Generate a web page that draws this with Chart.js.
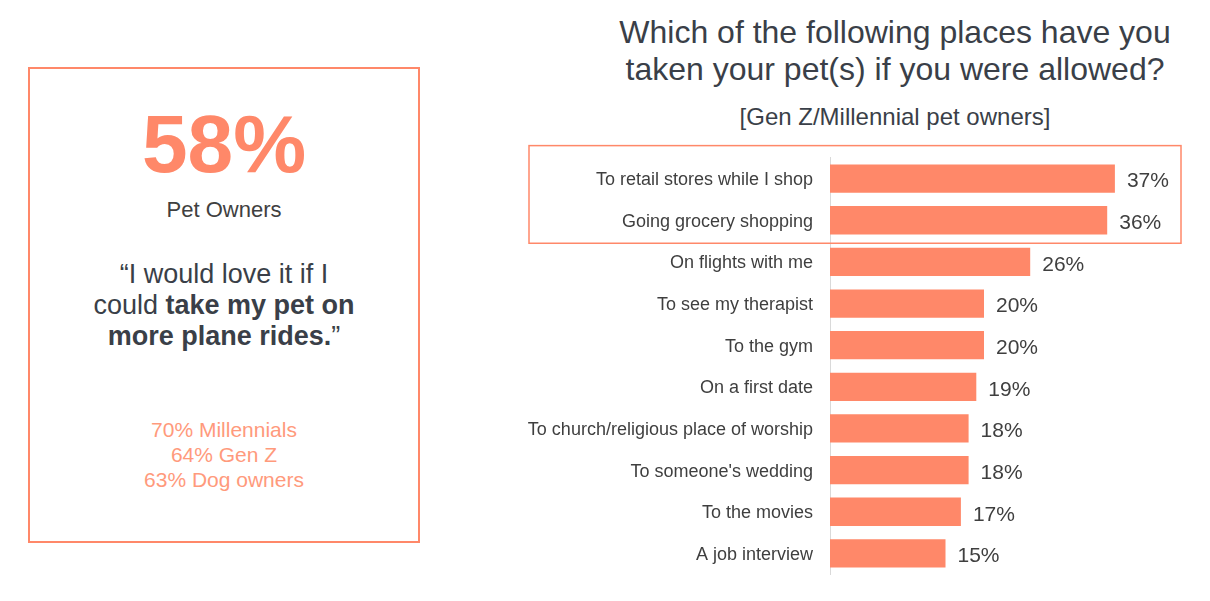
<!DOCTYPE html>
<html>
<head>
<meta charset="utf-8">
<script src="https://cdn.jsdelivr.net/npm/chart.js@4"></script>
<style>
  body { margin: 0; background: #fff; font-family: "Liberation Sans", Arial, sans-serif; color: #404040; }
  .page { position: relative; width: 1210px; height: 601px; overflow: hidden; }
  .card { position: absolute; left: 28px; top: 67px; width: 388px; height: 472px; border: 2px solid #FF8869; text-align: center; }
  .big { position: absolute; left: 0; right: 0; top: 34px; font-size: 82px; font-weight: bold; color: #FF8869; line-height: 1; }
  .owners { position: absolute; left: 0; right: 0; top: 128px; font-size: 22px; }
  .quote { position: absolute; left: 0; right: 0; top: 190px; font-size: 27px; line-height: 31px; color: #3a3f48; }
  .quote b { font-weight: 600; }
  .stats { position: absolute; left: 0; right: 0; top: 348px; font-size: 21px; line-height: 25px; color: #FF9A7C; }
  .title { position: absolute; left: 560px; width: 670px; top: 14px; text-align: center; font-size: 32px; line-height: 37px; color: #3a3f48; }
  .sub { position: absolute; left: 560px; width: 670px; top: 103px; text-align: center; font-size: 24px; color: #3a3f48; }
  .wrap { position: absolute; left: 520px; top: 130px; width: 690px; height: 472px; }
</style>
</head>
<body>
<div class="page">
  <div class="card">
    <div class="big">58%</div>
    <div class="owners">Pet Owners</div>
    <div class="quote">“I would love it if I<br>could <b>take my pet on<br>more plane rides.</b>”</div>
    <div class="stats">70% Millennials<br>64% Gen Z<br>63% Dog owners</div>
  </div>
  <div class="title">Which of the following places have you<br>taken your pet(s) if you were allowed?</div>
  <div class="sub">[Gen Z/Millennial pet owners]</div>
  <div class="wrap"><canvas id="places"></canvas></div>
</div>
<script>
const PLACES = [
  'To retail stores while I shop',
  'Going grocery shopping',
  'On flights with me',
  'To see my therapist',
  'To the gym',
  'On a first date',
  'To church/religious place of worship',
  "To someone's wedding",
  'To the movies',
  'A job interview'
];
const SHARE = [37, 36, 26, 20, 20, 19, 18, 18, 17, 15];
const HIGHLIGHTED = [0, 1];

const CORAL = '#FF8869';
const TEXT = '#3f3f3f';

// value labels at the end of each bar + box round the top two rows
const extras = {
  id: 'extras',
  afterDatasetsDraw(chart) {
    const ctx = chart.ctx;
    const meta = chart.getDatasetMeta(0);
    ctx.save();
    ctx.font = '21px "Liberation Sans", Arial, sans-serif';
    ctx.fillStyle = TEXT;
    ctx.textBaseline = 'middle';
    ctx.textAlign = 'left';
    meta.data.forEach((bar, i) => {
      ctx.fillText(SHARE[i] + '%', bar.x + 12, bar.y + 3);
    });
    const y = chart.scales.y;
    const top = y.getPixelForValue(HIGHLIGHTED[0]) - 33;
    const bottom = y.getPixelForValue(HIGHLIGHTED[HIGHLIGHTED.length - 1]) + 23;
    ctx.strokeStyle = CORAL;
    ctx.lineWidth = 1.5;
    ctx.strokeRect(9, top, 652, bottom - top);
    ctx.restore();
  }
};

new Chart(document.getElementById('places'), {
  type: 'bar',
  data: {
    labels: PLACES,
    datasets: [{
      data: SHARE,
      backgroundColor: CORAL,
      borderWidth: 0,
      categoryPercentage: 1,
      barPercentage: 0.68
    }]
  },
  options: {
    indexAxis: 'y',
    responsive: true,
    maintainAspectRatio: false,
    animation: false,
    layout: { padding: { top: 0, bottom: 0, right: 72, left: 0 } },
    scales: {
      x: { display: false, min: 0, max: 40 },
      y: {
        grid: { display: false, drawTicks: false },
        border: { display: true, color: '#d9d9d9', width: 1 },
        ticks: {
          color: TEXT,
          padding: 17,
          labelOffset: 1.5,
          font: { family: '"Liberation Sans", Arial, sans-serif', size: 18 }
        },
        afterFit(s) { s.width = 310; }
      }
    },
    plugins: {
      legend: { display: false },
      tooltip: { enabled: false }
    }
  },
  plugins: [extras]
});
</script>
</body>
</html>
